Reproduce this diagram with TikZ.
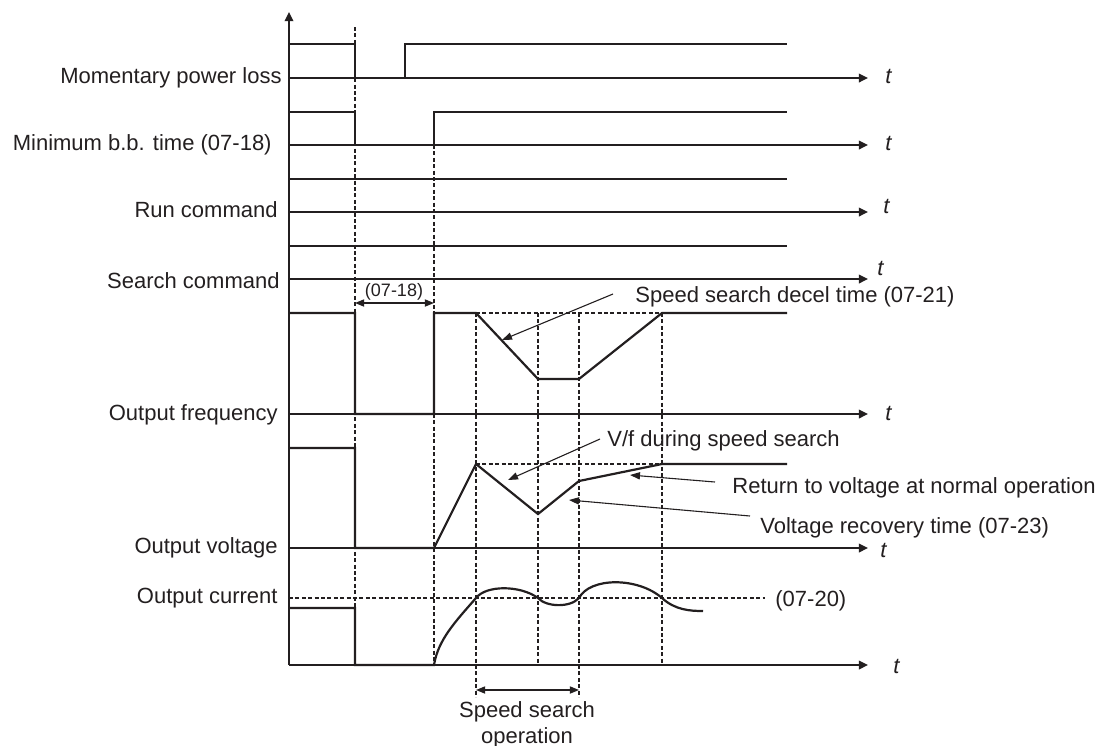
\documentclass[tikz,border=0pt]{standalone}
\usepackage{fontspec}
\setmainfont{Liberation Sans}
\usetikzlibrary{arrows.meta}
\definecolor{ink}{HTML}{231F20}
\begin{document}
\begin{tikzpicture}[x=0.5pt,y=-0.5pt,
  every node/.style={text=ink, inner sep=0pt, font=\fontsize{11}{13}\selectfont},
  sig/.style={draw=ink, line width=1.1pt, line join=miter},
  axis/.style={draw=ink, line width=0.7pt, -{Triangle[length=4.6pt,width=4.4pt]}},
  dsh/.style={draw=ink, line width=0.55pt, dash pattern=on 2pt off 1.2pt},
  note/.style={draw=ink, line width=0.55pt, -{Triangle[length=5pt,width=3.6pt]}},
  dimarrow/.style={draw=ink, line width=0.65pt, {Triangle[length=4.6pt,width=3.6pt]}-{Triangle[length=4.6pt,width=3.6pt]}},
  lbl/.style={anchor=base east},
  tlbl/.style={anchor=base west, font=\fontsize{11}{13}\selectfont\itshape},
  txt/.style={anchor=base west},
]
\useasboundingbox (0,0) rectangle (1103,745);

% axes
\coordinate (yb) at (289,665);
\coordinate (yt) at (289,12);
\draw[axis] (yb) -- (yt);
\foreach \yy/\nm in {78/a1,145/a2,212/a3,279/a4,414/a5,548/a6,665/a7}{
  \coordinate (\nm s) at (289,\yy);
  \coordinate (\nm e) at (868,\yy);
  \draw[axis] (\nm s) -- (\nm e);
}

% dashed guides
\draw[dsh] (355,27) -- (355,665);
\draw[dsh] (434,145) -- (434,665);
\draw[dsh] (476,313) -- (476,697);
\draw[dsh] (538,313) -- (538,665);
\draw[dsh] (579,313) -- (579,697);
\draw[dsh] (662,313) -- (662,665);
\draw[dsh] (476,313) -- (662,313);
\draw[dsh] (476,464) -- (662,464);
\draw[dsh] (289,598) -- (765,598);

% signals
\draw[sig] (289,44) -- (355,44) -- (355,78) -- (405,78) -- (405,44) -- (787,44);
\draw[sig] (289,112) -- (355,112) -- (355,145) -- (434,145) -- (434,112) -- (787,112);
\draw[sig] (289,179) -- (787,179);
\draw[sig] (289,246) -- (787,246);
\draw[sig] (289,313) -- (355,313) -- (355,414) -- (434,414) -- (434,313) -- (476,313)
  -- (538,379) -- (579,379) -- (662,313) -- (787,313);
\draw[sig] (289,448) -- (355,448) -- (355,548) -- (434,548) -- (476,464) -- (538,514)
  -- (579,481) -- (662,464) -- (787,464);
\draw[sig] (289,608) -- (355,608) -- (355,665) -- (434,665)
  .. controls (438,640) and (455,622) .. (476,598)
  .. controls (486,585) and (520,585) .. (538,598)
  .. controls (546,607) and (570,608) .. (579,598)
  .. controls (590,577) and (638,577) .. (662,598)
  .. controls (675,610) and (690,611) .. (703,611);

% dimension arrows
\coordinate (d1a) at (355,303);
\coordinate (d1b) at (434,303);
\draw[dimarrow] (d1a) -- (d1b);
\coordinate (d2a) at (476,690);
\coordinate (d2b) at (579,690);
\draw[dimarrow] (d2a) -- (d2b);

% left labels
\node[lbl] (l1) at (282,83) {Momentary power loss};
\node[lbl] (l2) at (272,150) {Minimum b.b. time (07-18)};
\node[lbl] (l3) at (278,217) {Run command};
\node[lbl] (l4) at (280,288) {Search command};
\node[lbl] (l5) at (278,420) {Output frequency};
\node[lbl] (l6) at (278,553) {Output voltage};
\node[lbl] (l7) at (278,603) {Output current};

% t labels
\node[tlbl] (t1) at (885,83) {t};
\node[tlbl] (t2) at (885,150) {t};
\node[tlbl] (t3) at (883,213) {t};
\node[tlbl] (t4) at (877,275) {t};
\node[tlbl] (t5) at (885,420) {t};
\node[tlbl] (t6) at (880,557) {t};
\node[tlbl] (t7) at (893,673) {t};

% annotations
\node[anchor=base, font=\fontsize{9}{11}\selectfont] (n0718) at (394,296) {(07-18)};
\node[txt] (n0721) at (635,302) {Speed search decel time (07-21)};
\node[txt] (nvf) at (607,446) {V/f during speed search};
\node[txt] (nret) at (732,493) {Return to voltage at normal operation};
\node[txt] (nrec) at (760,533) {Voltage recovery time (07-23)};
\node[txt] (n0720) at (775,606) {(07-20)};
\node[anchor=base] (nss1) at (527,717) {Speed search};
\node[anchor=base] (nss2) at (527,743) {operation};

\coordinate (a1f) at (613,294); \coordinate (a1t) at (502,340);
\draw[note] (a1f) -- (a1t);
\coordinate (a2f) at (600,439); \coordinate (a2t) at (508,480);
\draw[note] (a2f) -- (a2t);
\coordinate (a3f) at (715,482); \coordinate (a3t) at (630,475);
\draw[note] (a3f) -- (a3t);
\coordinate (a4f) at (750,516); \coordinate (a4t) at (569,500);
\draw[note] (a4f) -- (a4t);
\end{tikzpicture}
\end{document}
